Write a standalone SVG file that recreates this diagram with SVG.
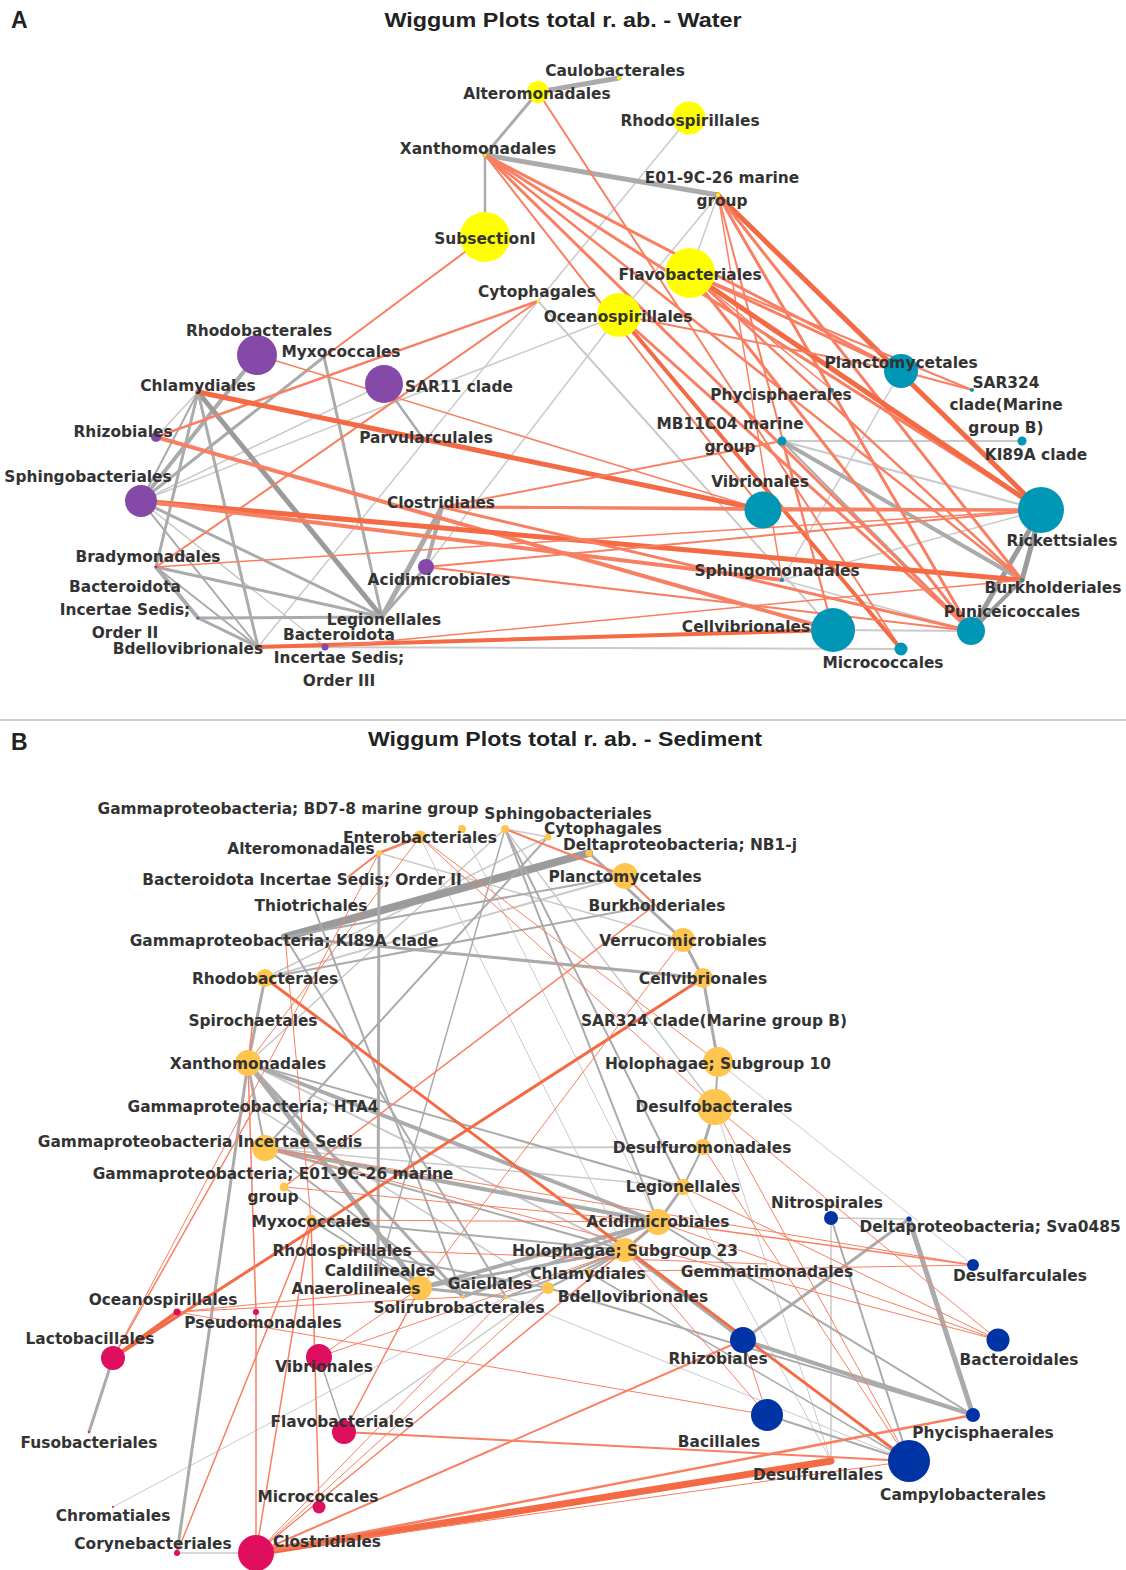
<svg xmlns="http://www.w3.org/2000/svg" width="1126" height="1570" viewBox="0 0 1126 1570">
<style>
text{font-family:"DejaVu Sans","Liberation Sans",sans-serif;font-weight:bold;font-size:15.4px;fill:#333;text-anchor:middle}
.title{font-family:"Liberation Sans",Arial,sans-serif;font-size:21px;fill:#222}
.panel{font-family:"Liberation Sans",Arial,sans-serif;font-size:23px;fill:#222;text-anchor:start}
line{stroke-linecap:round;fill:none}
.o{stroke:#F97F62}
.od{stroke:#F46A44}
.g{stroke:#ABABAB}
.gd{stroke:#9B9B9B}
.gl{stroke:#CACACA}
.ya{fill:#FFFF00}.pu{fill:#8549A7}.te{fill:#0096B6}
.yb{fill:#FFC54E}.pk{fill:#E00E5E}.bl{fill:#0033A3}
</style>
<rect width="1126" height="1570" fill="#fff"/>
<text class="panel" x="11" y="28">A</text>
<text class="title" x="563" y="27" textLength="357" lengthAdjust="spacingAndGlyphs">Wiggum Plots total r. ab. - Water</text>
<line x1="0" y1="720" x2="1126" y2="720" stroke="#A0A0A0" stroke-width="1"/>
<text class="panel" x="11" y="750">B</text>
<text class="title" x="565" y="746" textLength="394" lengthAdjust="spacingAndGlyphs">Wiggum Plots total r. ab. - Sediment</text>

<g id="connectors-A">
<line class="gl" x1="689" y1="118" x2="538" y2="301" stroke-width="1.5"/>
<line class="gl" x1="538" y1="301" x2="258" y2="647" stroke-width="1.5"/>
<line class="gl" x1="619" y1="315" x2="426" y2="567" stroke-width="1.5"/>
<line class="gl" x1="619" y1="315" x2="141" y2="501" stroke-width="1.5"/>
<line class="gl" x1="718" y1="195" x2="690" y2="273" stroke-width="1.5"/>
<line class="gl" x1="718" y1="195" x2="619" y2="315" stroke-width="1.5"/>
<line class="gl" x1="538" y1="301" x2="833" y2="630" stroke-width="2"/>
<line class="gl" x1="198" y1="392" x2="156" y2="437" stroke-width="1.5"/>
<line class="gl" x1="141" y1="501" x2="325" y2="647" stroke-width="1.5"/>
<line class="gl" x1="141" y1="501" x2="384" y2="384" stroke-width="1.5"/>
<line class="gl" x1="258" y1="647" x2="901" y2="649" stroke-width="2"/>
<line class="gl" x1="833" y1="630" x2="971" y2="631" stroke-width="2"/>
<line class="gl" x1="782" y1="441" x2="1022" y2="441" stroke-width="2"/>
<line class="gl" x1="782" y1="441" x2="1041" y2="510" stroke-width="2"/>
<line class="gl" x1="901" y1="371" x2="782" y2="580" stroke-width="1.5"/>
<line class="gl" x1="782" y1="580" x2="1041" y2="510" stroke-width="1.5"/>
<line class="gl" x1="782" y1="580" x2="971" y2="631" stroke-width="1.5"/>
<line class="g" x1="538" y1="92" x2="619" y2="78" stroke-width="5"/>
<line class="g" x1="538" y1="92" x2="485" y2="155" stroke-width="3"/>
<line class="g" x1="485" y1="155" x2="485" y2="237" stroke-width="2.5"/>
<line class="g" x1="485" y1="155" x2="718" y2="195" stroke-width="5"/>
<line class="g" x1="324" y1="357" x2="382" y2="617" stroke-width="3"/>
<line class="g" x1="324" y1="357" x2="141" y2="501" stroke-width="3"/>
<line class="g" x1="257" y1="355" x2="141" y2="501" stroke-width="4"/>
<line class="gd" x1="198" y1="392" x2="382" y2="617" stroke-width="5"/>
<line class="g" x1="198" y1="392" x2="258" y2="647" stroke-width="3"/>
<line class="g" x1="198" y1="392" x2="156" y2="567" stroke-width="3"/>
<line class="g" x1="198" y1="392" x2="141" y2="501" stroke-width="2"/>
<line class="g" x1="141" y1="501" x2="382" y2="617" stroke-width="3"/>
<line class="g" x1="141" y1="501" x2="258" y2="647" stroke-width="2"/>
<line class="g" x1="156" y1="567" x2="382" y2="617" stroke-width="3"/>
<line class="g" x1="156" y1="567" x2="198" y2="618" stroke-width="4"/>
<line class="g" x1="156" y1="567" x2="258" y2="647" stroke-width="2"/>
<line class="g" x1="198" y1="618" x2="382" y2="617" stroke-width="3"/>
<line class="g" x1="198" y1="618" x2="258" y2="647" stroke-width="3"/>
<line class="g" x1="382" y1="617" x2="442" y2="507" stroke-width="5"/>
<line class="g" x1="426" y1="567" x2="442" y2="507" stroke-width="4"/>
<line class="g" x1="382" y1="617" x2="426" y2="567" stroke-width="3"/>
<line class="g" x1="384" y1="384" x2="422" y2="437" stroke-width="2.5"/>
<line class="gd" x1="971" y1="631" x2="1041" y2="510" stroke-width="5"/>
<line class="gd" x1="1022" y1="580" x2="1041" y2="510" stroke-width="5"/>
<line class="gd" x1="971" y1="631" x2="1022" y2="580" stroke-width="4"/>
<line class="g" x1="782" y1="441" x2="1022" y2="580" stroke-width="4"/>
<line class="g" x1="782" y1="441" x2="971" y2="631" stroke-width="2"/>
<line class="o" x1="538" y1="92" x2="901" y2="649" stroke-width="2"/>
<line class="o" x1="485" y1="155" x2="901" y2="371" stroke-width="3"/>
<line class="o" x1="485" y1="155" x2="1041" y2="510" stroke-width="3"/>
<line class="o" x1="485" y1="155" x2="971" y2="631" stroke-width="3"/>
<line class="o" x1="485" y1="155" x2="1022" y2="580" stroke-width="2.5"/>
<line class="o" x1="485" y1="155" x2="763" y2="510" stroke-width="2"/>
<line class="od" x1="718" y1="195" x2="1041" y2="510" stroke-width="5"/>
<line class="o" x1="718" y1="195" x2="1022" y2="580" stroke-width="3"/>
<line class="o" x1="718" y1="195" x2="971" y2="631" stroke-width="3"/>
<line class="o" x1="718" y1="195" x2="782" y2="580" stroke-width="1.5"/>
<line class="o" x1="718" y1="195" x2="833" y2="630" stroke-width="2"/>
<line class="od" x1="690" y1="273" x2="1041" y2="510" stroke-width="5"/>
<line class="o" x1="690" y1="273" x2="901" y2="371" stroke-width="3"/>
<line class="o" x1="690" y1="273" x2="971" y2="631" stroke-width="3"/>
<line class="o" x1="690" y1="273" x2="1022" y2="580" stroke-width="2.5"/>
<line class="o" x1="690" y1="273" x2="832" y2="390" stroke-width="1.5"/>
<line class="o" x1="690" y1="273" x2="972" y2="390" stroke-width="2"/>
<line class="od" x1="619" y1="315" x2="901" y2="649" stroke-width="4"/>
<line class="o" x1="619" y1="315" x2="971" y2="631" stroke-width="3"/>
<line class="o" x1="619" y1="315" x2="901" y2="371" stroke-width="2"/>
<line class="o" x1="485" y1="237" x2="324" y2="357" stroke-width="2"/>
<line class="o" x1="538" y1="301" x2="156" y2="437" stroke-width="2.5"/>
<line class="o" x1="538" y1="301" x2="156" y2="567" stroke-width="2"/>
<line class="o" x1="257" y1="355" x2="763" y2="510" stroke-width="1.5"/>
<line class="od" x1="198" y1="392" x2="763" y2="510" stroke-width="5"/>
<line class="o" x1="156" y1="437" x2="833" y2="630" stroke-width="4"/>
<line class="od" x1="141" y1="501" x2="1022" y2="580" stroke-width="5"/>
<line class="o" x1="141" y1="501" x2="782" y2="580" stroke-width="4"/>
<line class="o" x1="442" y1="507" x2="1041" y2="510" stroke-width="3"/>
<line class="o" x1="442" y1="507" x2="971" y2="631" stroke-width="3"/>
<line class="o" x1="442" y1="507" x2="763" y2="510" stroke-width="2"/>
<line class="o" x1="426" y1="567" x2="1041" y2="510" stroke-width="2"/>
<line class="o" x1="426" y1="567" x2="971" y2="631" stroke-width="2"/>
<line class="o" x1="156" y1="567" x2="1041" y2="510" stroke-width="1.5"/>
<line class="od" x1="258" y1="647" x2="833" y2="630" stroke-width="4"/>
<line class="o" x1="325" y1="647" x2="1022" y2="580" stroke-width="1.5"/>
<line class="o" x1="782" y1="441" x2="442" y2="507" stroke-width="2"/>
<line class="o" x1="763" y1="510" x2="1041" y2="510" stroke-width="3"/>
<line class="o" x1="782" y1="441" x2="833" y2="630" stroke-width="1.5"/>
<line class="o" x1="832" y1="390" x2="971" y2="631" stroke-width="1.5"/>
<line class="o" x1="901" y1="371" x2="972" y2="390" stroke-width="2"/>
</g>

<g id="nodes-A">
<g id="a-alteromonadales"><circle class="ya" cx="538" cy="92" r="11"/><text x="537" y="99">Alteromonadales</text></g>
<g id="a-caulobacterales"><circle class="ya" cx="619" cy="78" r="2"/><text x="615" y="76">Caulobacterales</text></g>
<g id="a-rhodospirillales"><circle class="ya" cx="689" cy="118" r="16.5"/><text x="690" y="126">Rhodospirillales</text></g>
<g id="a-xanthomonadales"><circle class="ya" cx="485" cy="155" r="1.5"/><text x="478" y="154">Xanthomonadales</text></g>
<g id="a-e01"><circle class="ya" cx="718" cy="195" r="2"/><text x="722" y="183">E01-9C-26 marine</text><text x="722" y="206">group</text></g>
<g id="a-subsectioni"><circle class="ya" cx="485" cy="237" r="25"/><text x="485" y="244">SubsectionI</text></g>
<g id="a-flavobacteriales"><circle class="ya" cx="690" cy="273" r="25"/><text x="690" y="280">Flavobacteriales</text></g>
<g id="a-cytophagales"><circle class="ya" cx="538" cy="301" r="1.5"/><text x="537" y="297">Cytophagales</text></g>
<g id="a-oceanospirillales"><circle class="ya" cx="619" cy="315" r="22"/><text x="618" y="322">Oceanospirillales</text></g>
<g id="a-rhodobacterales"><circle class="pu" cx="257" cy="355" r="20"/><text x="259" y="336">Rhodobacterales</text></g>
<g id="a-myxococcales"><circle class="pu" cx="324" cy="357" r="1.5"/><text x="341" y="357">Myxococcales</text></g>
<g id="a-chlamydiales"><circle class="pu" cx="198" cy="392" r="1.5"/><text x="198" y="391">Chlamydiales</text></g>
<g id="a-sar11"><circle class="pu" cx="384" cy="384" r="19"/><text x="459" y="392">SAR11 clade</text></g>
<g id="a-parvularculales"><circle class="pu" cx="422" cy="437" r="1.5"/><text x="426" y="443">Parvularculales</text></g>
<g id="a-rhizobiales"><circle class="pu" cx="156" cy="437" r="5"/><text x="123" y="437">Rhizobiales</text></g>
<g id="a-sphingobacteriales"><circle class="pu" cx="141" cy="501" r="16"/><text x="88" y="482">Sphingobacteriales</text></g>
<g id="a-clostridiales"><circle class="pu" cx="442" cy="507" r="1.5"/><text x="441" y="508">Clostridiales</text></g>
<g id="a-acidimicrobiales"><circle class="pu" cx="426" cy="567" r="8"/><text x="439" y="585">Acidimicrobiales</text></g>
<g id="a-bradymonadales"><circle class="pu" cx="156" cy="567" r="1.5"/><text x="148" y="562">Bradymonadales</text></g>
<g id="a-bacteroidota-ii"><circle class="pu" cx="198" cy="618" r="1.5"/><text x="125" y="592">Bacteroidota</text><text x="125" y="615">Incertae Sedis;</text><text x="125" y="638">Order II</text></g>
<g id="a-legionellales"><circle class="pu" cx="382" cy="617" r="1.5"/><text x="384" y="625">Legionellales</text></g>
<g id="a-bdellovibrionales"><circle class="pu" cx="258" cy="647" r="1.5"/><text x="188" y="654">Bdellovibrionales</text></g>
<g id="a-bacteroidota-iii"><circle class="pu" cx="325" cy="647" r="3.5"/><text x="339" y="640">Bacteroidota</text><text x="339" y="663">Incertae Sedis;</text><text x="339" y="686">Order III</text></g>
<g id="a-planctomycetales"><circle class="te" cx="901" cy="371" r="17"/><text x="901" y="368">Planctomycetales</text></g>
<g id="a-sar324"><circle class="te" cx="972" cy="390" r="2"/><text x="1006" y="388">SAR324</text><text x="1006" y="410">clade(Marine</text><text x="1006" y="433">group B)</text></g>
<g id="a-phycisphaerales"><circle class="te" cx="832" cy="390" r="2"/><text x="781" y="400">Phycisphaerales</text></g>
<g id="a-mb11c04"><circle class="te" cx="782" cy="441" r="4.5"/><text x="730" y="429">MB11C04 marine</text><text x="730" y="452">group</text></g>
<g id="a-ki89a"><circle class="te" cx="1022" cy="441" r="4.5"/><text x="1036" y="460">KI89A clade</text></g>
<g id="a-vibrionales"><circle class="te" cx="763" cy="510" r="18.5"/><text x="760" y="487">Vibrionales</text></g>
<g id="a-rickettsiales"><circle class="te" cx="1041" cy="510" r="23"/><text x="1062" y="546">Rickettsiales</text></g>
<g id="a-sphingomonadales"><circle class="te" cx="782" cy="580" r="2"/><text x="777" y="576">Sphingomonadales</text></g>
<g id="a-burkholderiales"><circle class="te" cx="1022" cy="580" r="2"/><text x="1053" y="593">Burkholderiales</text></g>
<g id="a-puniceicoccales"><circle class="te" cx="971" cy="631" r="14"/><text x="1012" y="617">Puniceicoccales</text></g>
<g id="a-cellvibrionales"><circle class="te" cx="833" cy="630" r="22"/><text x="746" y="632">Cellvibrionales</text></g>
<g id="a-micrococcales"><circle class="te" cx="901" cy="649" r="6.5"/><text x="883" y="668">Micrococcales</text></g>
</g>

<g id="connectors-B">
<line class="gl" x1="248" y1="1063" x2="625" y2="1250" stroke-width="2"/>
<line class="gl" x1="248" y1="1063" x2="505" y2="829" stroke-width="1.5"/>
<line class="gl" x1="265" y1="1148" x2="703" y2="1147" stroke-width="2"/>
<line class="gl" x1="831" y1="1218" x2="909" y2="1219" stroke-width="1.5"/>
<line class="gl" x1="831" y1="1218" x2="831" y2="1461" stroke-width="1.5"/>
<line class="gl" x1="177" y1="1553" x2="256" y2="1553" stroke-width="1.5"/>
<line class="gl" x1="113" y1="1507" x2="506" y2="1297" stroke-width="1"/>
<line class="gl" x1="344" y1="1432" x2="548" y2="1288" stroke-width="1.5"/>
<line class="gl" x1="715" y1="1107" x2="831" y2="1461" stroke-width="1"/>
<line class="gl" x1="718" y1="1062" x2="973" y2="1265" stroke-width="1"/>
<line class="gl" x1="683" y1="1187" x2="831" y2="1461" stroke-width="1"/>
<line class="gl" x1="505" y1="829" x2="548" y2="837" stroke-width="1.5"/>
<line class="gl" x1="505" y1="829" x2="715" y2="1107" stroke-width="1.5"/>
<line class="gl" x1="379" y1="853" x2="683" y2="940" stroke-width="1.5"/>
<line class="gl" x1="265" y1="978" x2="625" y2="876" stroke-width="2"/>
<line class="gl" x1="265" y1="978" x2="548" y2="837" stroke-width="1.5"/>
<line class="gl" x1="462" y1="829" x2="658" y2="1222" stroke-width="1"/>
<line class="gl" x1="420" y1="837" x2="625" y2="1250" stroke-width="1"/>
<line class="gl" x1="255" y1="1107" x2="548" y2="1288" stroke-width="1.5"/>
<line class="gl" x1="265" y1="1148" x2="683" y2="1187" stroke-width="1.5"/>
<line class="gl" x1="506" y1="1297" x2="909" y2="1461" stroke-width="1"/>
<line class="gd" x1="285" y1="937" x2="589" y2="853" stroke-width="8"/>
<line class="g" x1="285" y1="937" x2="703" y2="978" stroke-width="3"/>
<line class="g" x1="379" y1="853" x2="378" y2="1273" stroke-width="3"/>
<line class="g" x1="248" y1="1063" x2="420" y2="1288" stroke-width="5"/>
<line class="g" x1="248" y1="1063" x2="463" y2="1297" stroke-width="3"/>
<line class="g" x1="248" y1="1063" x2="658" y2="1222" stroke-width="4"/>
<line class="g" x1="248" y1="1063" x2="265" y2="978" stroke-width="3"/>
<line class="g" x1="248" y1="1063" x2="255" y2="1107" stroke-width="2"/>
<line class="g" x1="248" y1="1063" x2="177" y2="1553" stroke-width="3"/>
<line class="g" x1="248" y1="1063" x2="265" y2="1148" stroke-width="2"/>
<line class="g" x1="248" y1="1063" x2="683" y2="1187" stroke-width="2"/>
<line class="g" x1="265" y1="1148" x2="658" y2="1222" stroke-width="4"/>
<line class="g" x1="265" y1="1148" x2="625" y2="1250" stroke-width="2"/>
<line class="g" x1="265" y1="1148" x2="463" y2="1297" stroke-width="2"/>
<line class="g" x1="548" y1="837" x2="265" y2="1148" stroke-width="2"/>
<line class="g" x1="311" y1="1220" x2="625" y2="1250" stroke-width="2"/>
<line class="g" x1="311" y1="1220" x2="420" y2="1288" stroke-width="2"/>
<line class="g" x1="342" y1="1249" x2="548" y2="1288" stroke-width="2"/>
<line class="g" x1="420" y1="1288" x2="658" y2="1222" stroke-width="4"/>
<line class="g" x1="420" y1="1288" x2="625" y2="1250" stroke-width="3"/>
<line class="g" x1="420" y1="1288" x2="506" y2="1297" stroke-width="3"/>
<line class="g" x1="463" y1="1297" x2="658" y2="1222" stroke-width="3"/>
<line class="g" x1="506" y1="1297" x2="625" y2="1250" stroke-width="2"/>
<line class="g" x1="506" y1="1297" x2="548" y2="1288" stroke-width="2"/>
<line class="g" x1="683" y1="1187" x2="658" y2="1222" stroke-width="3"/>
<line class="g" x1="683" y1="1187" x2="703" y2="1147" stroke-width="2"/>
<line class="g" x1="703" y1="1147" x2="715" y2="1107" stroke-width="3"/>
<line class="g" x1="715" y1="1107" x2="718" y2="1062" stroke-width="2"/>
<line class="g" x1="718" y1="1062" x2="703" y2="978" stroke-width="3"/>
<line class="g" x1="703" y1="978" x2="683" y2="940" stroke-width="3"/>
<line class="g" x1="683" y1="940" x2="589" y2="853" stroke-width="3"/>
<line class="g" x1="658" y1="1222" x2="625" y2="1250" stroke-width="3"/>
<line class="g" x1="625" y1="1250" x2="548" y2="1288" stroke-width="2"/>
<line class="g" x1="625" y1="1250" x2="588" y2="1272" stroke-width="2"/>
<line class="g" x1="625" y1="1250" x2="743" y2="1340" stroke-width="3"/>
<line class="g" x1="743" y1="1340" x2="973" y2="1415" stroke-width="4"/>
<line class="g" x1="743" y1="1340" x2="909" y2="1219" stroke-width="3"/>
<line class="g" x1="909" y1="1219" x2="973" y2="1415" stroke-width="5"/>
<line class="g" x1="831" y1="1218" x2="909" y2="1461" stroke-width="2"/>
<line class="g" x1="767" y1="1415" x2="909" y2="1461" stroke-width="2"/>
<line class="g" x1="658" y1="1222" x2="973" y2="1415" stroke-width="2"/>
<line class="g" x1="548" y1="1288" x2="973" y2="1415" stroke-width="2"/>
<line class="g" x1="588" y1="1272" x2="909" y2="1461" stroke-width="1.5"/>
<line class="g" x1="113" y1="1358" x2="89" y2="1432" stroke-width="3"/>
<line class="g" x1="319" y1="1357" x2="344" y2="1432" stroke-width="1.5"/>
<line class="g" x1="505" y1="829" x2="683" y2="1187" stroke-width="2"/>
<line class="g" x1="505" y1="829" x2="658" y2="1222" stroke-width="2"/>
<line class="g" x1="505" y1="829" x2="378" y2="1273" stroke-width="1.5"/>
<line class="g" x1="285" y1="937" x2="506" y2="1297" stroke-width="2"/>
<line class="g" x1="285" y1="937" x2="625" y2="876" stroke-width="2"/>
<line class="g" x1="313" y1="905" x2="463" y2="1297" stroke-width="2"/>
<line class="g" x1="265" y1="978" x2="655" y2="905" stroke-width="2"/>
<line class="g" x1="284" y1="1187" x2="420" y2="1288" stroke-width="1.5"/>
<line class="od" x1="256" y1="1553" x2="831" y2="1461" stroke-width="7"/>
<line class="o" x1="256" y1="1553" x2="973" y2="1415" stroke-width="2.5"/>
<line class="o" x1="256" y1="1553" x2="909" y2="1461" stroke-width="1"/>
<line class="o" x1="256" y1="1553" x2="743" y2="1340" stroke-width="2"/>
<line class="o" x1="256" y1="1553" x2="625" y2="1250" stroke-width="1.2"/>
<line class="o" x1="256" y1="1553" x2="658" y2="1222" stroke-width="1"/>
<line class="o" x1="256" y1="1553" x2="548" y2="1288" stroke-width="1"/>
<line class="o" x1="256" y1="1553" x2="256" y2="1312" stroke-width="1.5"/>
<line class="o" x1="256" y1="1553" x2="311" y2="1220" stroke-width="1.5"/>
<line class="o" x1="256" y1="1553" x2="506" y2="1297" stroke-width="1"/>
<line class="o" x1="177" y1="1553" x2="311" y2="1220" stroke-width="1.5"/>
<line class="o" x1="344" y1="1432" x2="909" y2="1461" stroke-width="2"/>
<line class="o" x1="344" y1="1432" x2="420" y2="1288" stroke-width="1.5"/>
<line class="o" x1="319" y1="1507" x2="311" y2="1220" stroke-width="1.5"/>
<line class="o" x1="319" y1="1357" x2="420" y2="1288" stroke-width="1"/>
<line class="od" x1="113" y1="1358" x2="177" y2="1312" stroke-width="3.5"/>
<line class="od" x1="113" y1="1358" x2="703" y2="978" stroke-width="3"/>
<line class="o" x1="177" y1="1312" x2="767" y2="1415" stroke-width="1"/>
<line class="o" x1="177" y1="1312" x2="420" y2="1288" stroke-width="1"/>
<line class="o" x1="177" y1="1312" x2="463" y2="1297" stroke-width="1"/>
<line class="o" x1="113" y1="1358" x2="255" y2="1107" stroke-width="1.5"/>
<line class="o" x1="256" y1="1312" x2="248" y2="1063" stroke-width="1.5"/>
<line class="od" x1="265" y1="978" x2="909" y2="1461" stroke-width="3"/>
<line class="o" x1="420" y1="837" x2="379" y2="853" stroke-width="2.5"/>
<line class="o" x1="379" y1="853" x2="348" y2="877" stroke-width="2"/>
<line class="o" x1="420" y1="837" x2="248" y2="1063" stroke-width="1"/>
<line class="o" x1="379" y1="853" x2="113" y2="1358" stroke-width="1"/>
<line class="o" x1="505" y1="829" x2="625" y2="876" stroke-width="2"/>
<line class="o" x1="625" y1="876" x2="655" y2="905" stroke-width="2"/>
<line class="o" x1="655" y1="905" x2="284" y2="1187" stroke-width="1.5"/>
<line class="o" x1="683" y1="940" x2="420" y2="1288" stroke-width="1"/>
<line class="o" x1="420" y1="837" x2="715" y2="1107" stroke-width="1"/>
<line class="o" x1="420" y1="837" x2="718" y2="1062" stroke-width="1"/>
<line class="o" x1="265" y1="1148" x2="998" y2="1340" stroke-width="1"/>
<line class="o" x1="265" y1="1148" x2="973" y2="1265" stroke-width="1"/>
<line class="o" x1="658" y1="1222" x2="998" y2="1340" stroke-width="1"/>
<line class="o" x1="658" y1="1222" x2="973" y2="1265" stroke-width="1.5"/>
<line class="o" x1="683" y1="1187" x2="998" y2="1340" stroke-width="1"/>
<line class="o" x1="715" y1="1107" x2="998" y2="1340" stroke-width="1"/>
<line class="o" x1="715" y1="1107" x2="909" y2="1461" stroke-width="1"/>
<line class="o" x1="703" y1="1147" x2="909" y2="1461" stroke-width="1"/>
<line class="o" x1="588" y1="1272" x2="973" y2="1265" stroke-width="1"/>
<line class="o" x1="767" y1="1415" x2="625" y2="1250" stroke-width="1"/>
<line class="o" x1="319" y1="1357" x2="625" y2="1250" stroke-width="1"/>
<line class="o" x1="311" y1="1220" x2="658" y2="1222" stroke-width="1"/>
<line class="o" x1="342" y1="1249" x2="766" y2="1264" stroke-width="1"/>
<line class="o" x1="284" y1="1187" x2="658" y2="1222" stroke-width="1"/>
<line class="o" x1="285" y1="937" x2="311" y2="1220" stroke-width="1"/>
<line class="o" x1="253" y1="1020" x2="248" y2="1063" stroke-width="1.5"/>
<line class="o" x1="743" y1="1340" x2="767" y2="1415" stroke-width="1"/>
</g>

<g id="nodes-B">
<g id="b-bd78"><circle class="yb" cx="462" cy="829" r="4"/><text x="288" y="814">Gammaproteobacteria; BD7-8 marine group</text></g>
<g id="b-sphingobacteriales"><circle class="yb" cx="505" cy="829" r="4"/><text x="568" y="819">Sphingobacteriales</text></g>
<g id="b-enterobacteriales"><circle class="yb" cx="420" cy="837" r="6.5"/><text x="420" y="843">Enterobacteriales</text></g>
<g id="b-cytophagales"><circle class="yb" cx="548" cy="837" r="3.5"/><text x="603" y="834">Cytophagales</text></g>
<g id="b-alteromonadales"><circle class="yb" cx="379" cy="853" r="3"/><text x="301" y="854">Alteromonadales</text></g>
<g id="b-nb1j"><circle class="yb" cx="589" cy="853" r="3.5"/><text x="680" y="850">Deltaproteobacteria; NB1-j</text></g>
<g id="b-planctomycetales"><circle class="yb" cx="625" cy="876" r="13"/><text x="625" y="882">Planctomycetales</text></g>
<g id="b-bacteroidota-ii"><circle class="yb" cx="348" cy="877" r="1"/><text x="302" y="885">Bacteroidota Incertae Sedis; Order II</text></g>
<g id="b-thiotrichales"><circle class="yb" cx="313" cy="905" r="1"/><text x="311" y="911">Thiotrichales</text></g>
<g id="b-burkholderiales"><circle class="yb" cx="655" cy="905" r="1"/><text x="657" y="911">Burkholderiales</text></g>
<g id="b-ki89a"><circle class="yb" cx="285" cy="937" r="1"/><text x="284" y="946">Gammaproteobacteria; KI89A clade</text></g>
<g id="b-verrucomicrobiales"><circle class="yb" cx="683" cy="940" r="12"/><text x="683" y="946">Verrucomicrobiales</text></g>
<g id="b-rhodobacterales"><circle class="yb" cx="265" cy="978" r="9"/><text x="265" y="984">Rhodobacterales</text></g>
<g id="b-cellvibrionales"><circle class="yb" cx="703" cy="978" r="10"/><text x="703" y="984">Cellvibrionales</text></g>
<g id="b-spirochaetales"><circle class="yb" cx="253" cy="1020" r="1"/><text x="253" y="1026">Spirochaetales</text></g>
<g id="b-sar324"><circle class="yb" cx="712" cy="1020" r="1"/><text x="714" y="1026">SAR324 clade(Marine group B)</text></g>
<g id="b-xanthomonadales"><circle class="yb" cx="248" cy="1063" r="13"/><text x="248" y="1069">Xanthomonadales</text></g>
<g id="b-holophagae10"><circle class="yb" cx="718" cy="1062" r="15"/><text x="718" y="1069">Holophagae; Subgroup 10</text></g>
<g id="b-hta4"><circle class="yb" cx="255" cy="1107" r="1"/><text x="253" y="1112">Gammaproteobacteria; HTA4</text></g>
<g id="b-desulfobacterales"><circle class="yb" cx="715" cy="1107" r="18"/><text x="714" y="1112">Desulfobacterales</text></g>
<g id="b-gamma-is"><circle class="yb" cx="265" cy="1148" r="13"/><text x="200" y="1147">Gammaproteobacteria Incertae Sedis</text></g>
<g id="b-desulfuromonadales"><circle class="yb" cx="703" cy="1147" r="8"/><text x="702" y="1153">Desulfuromonadales</text></g>
<g id="b-e01"><circle class="yb" cx="284" cy="1187" r="4.5"/><text x="273" y="1179">Gammaproteobacteria; E01-9C-26 marine</text><text x="273" y="1202">group</text></g>
<g id="b-legionellales"><circle class="yb" cx="683" cy="1187" r="8"/><text x="683" y="1192">Legionellales</text></g>
<g id="b-nitrospirales"><circle class="bl" cx="831" cy="1218" r="7"/><text x="827" y="1208">Nitrospirales</text></g>
<g id="b-myxococcales"><circle class="yb" cx="311" cy="1220" r="5.5"/><text x="311" y="1227">Myxococcales</text></g>
<g id="b-acidimicrobiales"><circle class="yb" cx="658" cy="1222" r="13"/><text x="658" y="1227">Acidimicrobiales</text></g>
<g id="b-sva0485"><circle class="bl" cx="909" cy="1219" r="2.5"/><text x="990" y="1232">Deltaproteobacteria; Sva0485</text></g>
<g id="b-rhodospirillales"><circle class="yb" cx="342" cy="1249" r="4.5"/><text x="342" y="1256">Rhodospirillales</text></g>
<g id="b-holophagae23"><circle class="yb" cx="625" cy="1250" r="12"/><text x="625" y="1256">Holophagae; Subgroup 23</text></g>
<g id="b-caldilineales"><circle class="yb" cx="378" cy="1273" r="1"/><text x="380" y="1276">Caldilineales</text></g>
<g id="b-chlamydiales"><circle class="yb" cx="588" cy="1272" r="3.5"/><text x="588" y="1279">Chlamydiales</text></g>
<g id="b-gemmatimonadales"><circle class="yb" cx="766" cy="1264" r="1"/><text x="767" y="1277">Gemmatimonadales</text></g>
<g id="b-desulfarculales"><circle class="bl" cx="973" cy="1265" r="6"/><text x="1020" y="1281">Desulfarculales</text></g>
<g id="b-anaerolineales"><circle class="yb" cx="420" cy="1288" r="12"/><text x="356" y="1294">Anaerolineales</text></g>
<g id="b-gaiellales"><circle class="yb" cx="463" cy="1297" r="2"/><text x="490" y="1289">Gaiellales</text></g>
<g id="b-solirubrobacterales"><circle class="yb" cx="506" cy="1297" r="2"/><text x="459" y="1313">Solirubrobacterales</text></g>
<g id="b-bdellovibrionales"><circle class="yb" cx="548" cy="1288" r="6"/><text x="633" y="1302">Bdellovibrionales</text></g>
<g id="b-oceanospirillales"><circle class="pk" cx="177" cy="1312" r="3.5"/><text x="163" y="1305">Oceanospirillales</text></g>
<g id="b-pseudomonadales"><circle class="pk" cx="256" cy="1312" r="3"/><text x="263" y="1328">Pseudomonadales</text></g>
<g id="b-lactobacillales"><circle class="pk" cx="113" cy="1358" r="12"/><text x="90" y="1344">Lactobacillales</text></g>
<g id="b-vibrionales"><circle class="pk" cx="319" cy="1357" r="13"/><text x="324" y="1372">Vibrionales</text></g>
<g id="b-rhizobiales"><circle class="bl" cx="743" cy="1340" r="13"/><text x="718" y="1364">Rhizobiales</text></g>
<g id="b-bacteroidales"><circle class="bl" cx="998" cy="1340" r="11.5"/><text x="1019" y="1365">Bacteroidales</text></g>
<g id="b-bacillales"><circle class="bl" cx="767" cy="1415" r="16"/><text x="719" y="1447">Bacillales</text></g>
<g id="b-phycisphaerales"><circle class="bl" cx="973" cy="1415" r="7"/><text x="983" y="1438">Phycisphaerales</text></g>
<g id="b-fusobacteriales"><circle class="pk" cx="89" cy="1432" r="1"/><text x="89" y="1448">Fusobacteriales</text></g>
<g id="b-flavobacteriales"><circle class="pk" cx="344" cy="1432" r="12"/><text x="342" y="1427">Flavobacteriales</text></g>
<g id="b-campylobacterales"><circle class="bl" cx="909" cy="1461" r="21"/><text x="963" y="1500">Campylobacterales</text></g>
<g id="b-desulfurellales"><circle class="od" cx="831" cy="1461" r="1.5" fill="#F46A44"/><text x="818" y="1480">Desulfurellales</text></g>
<g id="b-chromatiales"><circle class="pk" cx="113" cy="1507" r="1"/><text x="113" y="1521">Chromatiales</text></g>
<g id="b-micrococcales"><circle class="pk" cx="319" cy="1507" r="6.5"/><text x="318" y="1502">Micrococcales</text></g>
<g id="b-corynebacteriales"><circle class="pk" cx="177" cy="1553" r="3"/><text x="153" y="1549">Corynebacteriales</text></g>
<g id="b-clostridiales"><circle class="pk" cx="256" cy="1553" r="18"/><text x="327" y="1547">Clostridiales</text></g>
</g>
</svg>
